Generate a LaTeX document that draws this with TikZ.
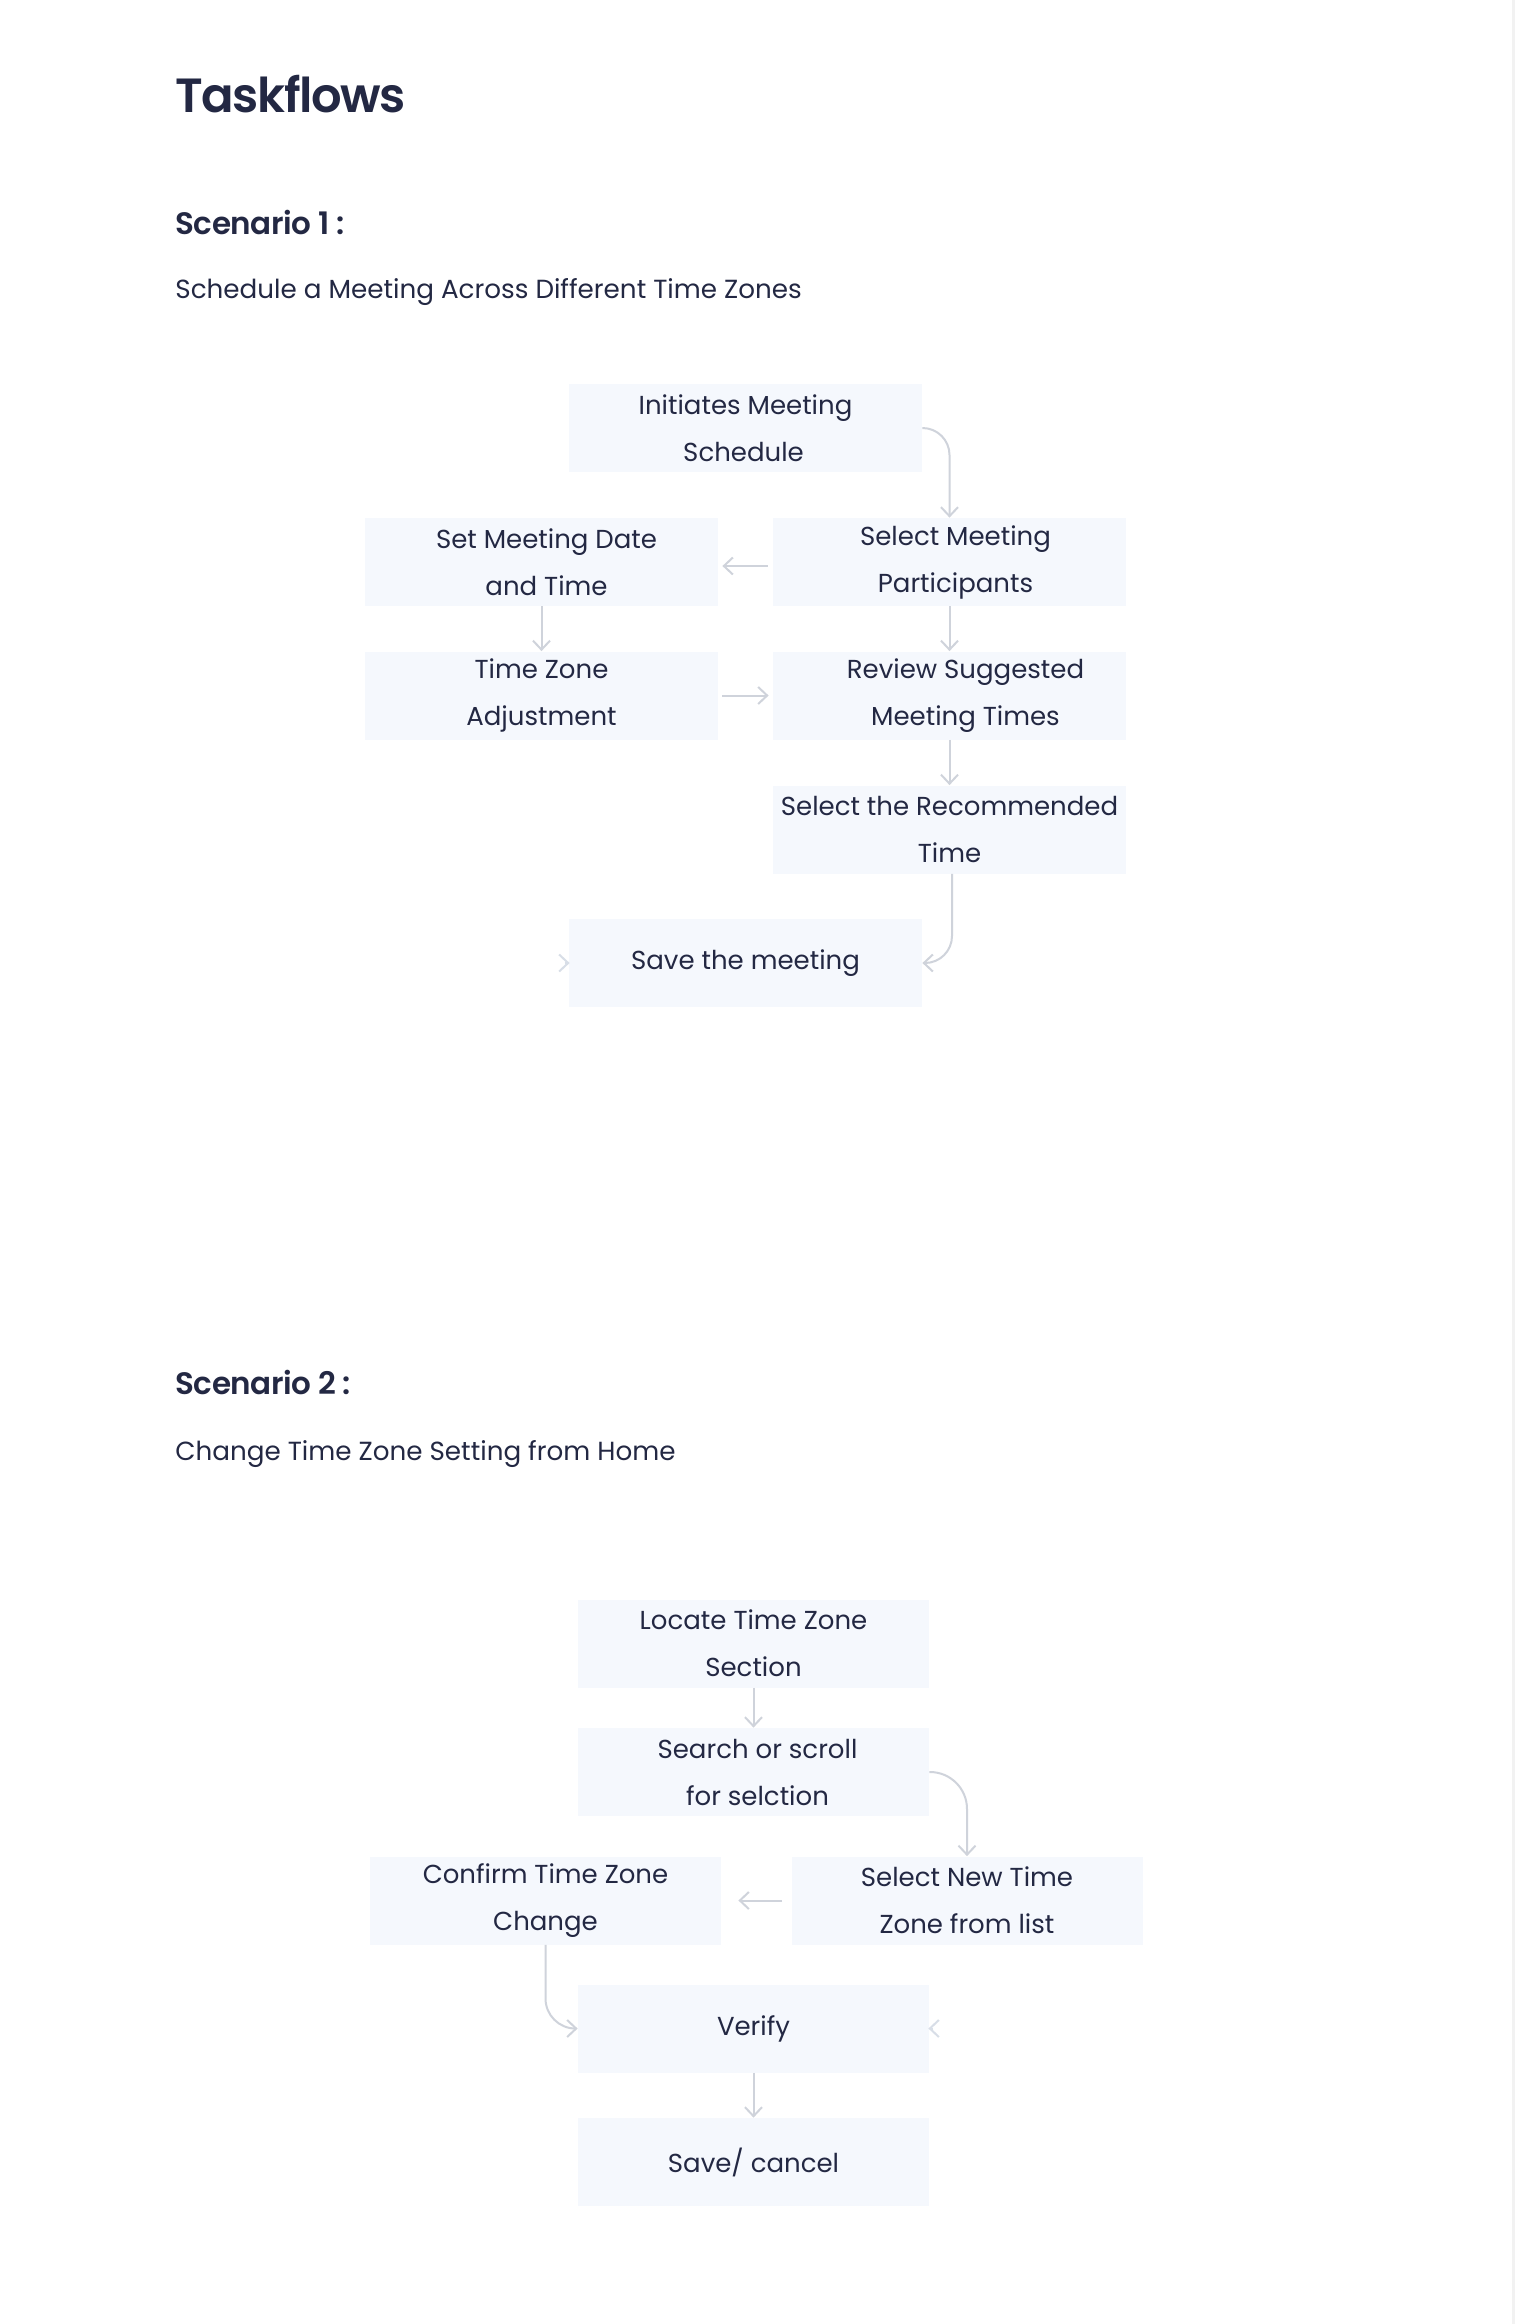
\documentclass[tikz,border=0pt]{standalone}
\usepackage{fontspec}
\setmainfont{Poppins}
\newfontfamily\ptitle{Poppins SemiBold}[LetterSpace=-3]
\newfontfamily\pscen{Poppins SemiBold}[LetterSpace=-1.5]
\usetikzlibrary{arrows.meta}
\definecolor{ink}{HTML}{232843}
\definecolor{boxfill}{HTML}{F5F8FD}
\definecolor{linec}{HTML}{CFD3DB}
\definecolor{faint}{HTML}{D8DEE7}
\definecolor{strip}{HTML}{F2F2F2}
\begin{document}
\begin{tikzpicture}[x=0.5pt,y=-0.5pt,
  stepbox/.style={fill=boxfill, draw=none, minimum width=176.5pt, minimum height=44pt,
    inner sep=0pt, align=center, text=ink, font=\fontsize{13}{23.5}\selectfont},
  stepboxb/.style={stepbox, minimum width=175.5pt},
  conn/.style={draw=linec, line width=1pt, -{Straight Barb[length=4.5pt,width=8.5pt]}},
  faintconn/.style={conn, draw=faint},
  heading/.style={anchor=base west, inner sep=0pt, text=ink},
  titlefont/.style={font=\ptitle\fontsize{24}{28}\selectfont},
  scenfont/.style={font=\pscen\fontsize{15.5}{19}\selectfont},
  subfont/.style={font=\fontsize{13.1}{16}\selectfont}]
\fill[white] (0,0) rectangle (1515,2324);
\fill[strip] (1512,0) rectangle (1515,2324);
\useasboundingbox (0,0) rectangle (1515,2324);

% headings
\node[heading, titlefont] (title) at (175,112) {Taskflows};
\node[heading, scenfont] (sc1) at (175,234) {Scenario 1 :};
\node[heading, subfont] (sub1) at (175,298) {Schedule a Meeting Across Different Time Zones};
\node[heading, scenfont] (sc2) at (175,1394) {Scenario 2 :};
\node[heading, subfont] (sub2) at (175,1460) {Change Time Zone Setting from Home};

% scenario 1
\node[stepbox] (A) at (745.5,428) {Initiates Meeting\\Schedule\hspace*{2pt}};
\node[stepbox] (B) at (949.5,562) {\hspace*{6pt}Select Meeting\\\hspace*{6pt}Participants};
\node[stepbox] (C) at (541.5,562) {\hspace*{5pt}Set Meeting Date\\\hspace*{5pt}and Time};
\node[stepbox] (D) at (541.5,695.5) {Time Zone\\Adjustment};
\node[stepbox] (E) at (949.5,695.5) {\hspace*{16pt}Review Suggested\\\hspace*{16pt}Meeting Times};
\node[stepbox] (F) at (949.5,829.5) {Select the Recommended\\Time};
\node[stepbox] (G) at (745.5,963) {Save the meeting};

\draw[conn, rounded corners=13.5pt] (A.east) -| (B.north);
\draw[conn] ([shift={(-5,4)}]B.west) -- ([shift={(4,4)}]C.east);
\draw[conn] (C.south) -- (D.north);
\draw[conn] (B.south) -- (E.north);
\draw[conn] ([shift={(4,0)}]D.east) -- ([shift={(-4,0)}]E.west);
\draw[conn] (E.south) -- (F.north);
\draw[conn, rounded corners=13.5pt] ([shift={(2.5,0)}]F.south) |- (G.east);
\coordinate (g0) at ([shift={(-4,0)}]G.west);
\draw[faintconn] (g0) -- ([shift={(1,0)}]G.west);

% scenario 2
\node[stepboxb] (L) at (753.5,1643.5) {Locate Time Zone\\Section};
\node[stepboxb] (S) at (753.5,1772) {\hspace*{4pt}Search or scroll\\\hspace*{4pt}for selction};
\node[stepboxb] (N) at (967,1900.5) {Select New Time\\Zone from list};
\node[stepboxb] (C2) at (545.5,1900.5) {Confirm Time Zone\\Change};
\node[stepboxb] (V) at (753.5,2028.5) {Verify};
\node[stepboxb] (SC) at (753.5,2162) {Save/ cancel};

\draw[conn] (L.south) -- (S.north);
\draw[conn, rounded corners=18.5pt] (S.east) -| (N.north);
\draw[conn] ([shift={(-9,0)}]N.west) -- ([shift={(17,0)}]C2.east);
\draw[conn, rounded corners=15pt] (C2.south) |- (V.west);
\coordinate (v0) at ([shift={(4,0)}]V.east);
\draw[faintconn] (v0) -- ([shift={(-1,0)}]V.east);
\draw[conn] (V.south) -- (SC.north);
\end{tikzpicture}
\end{document}
